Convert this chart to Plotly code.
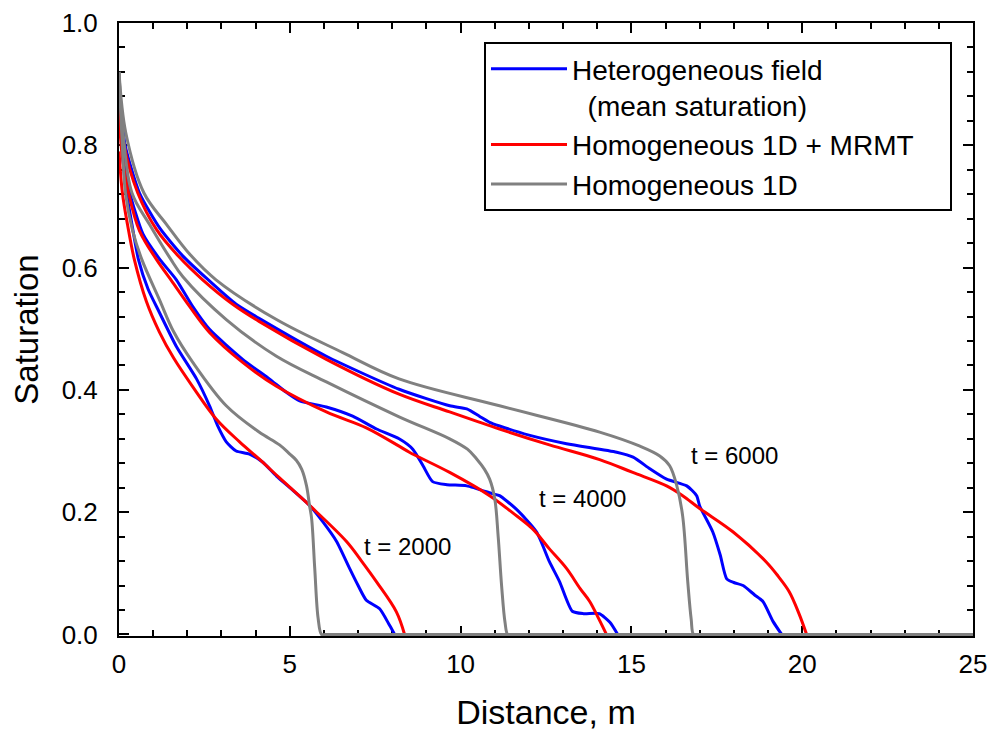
import plotly.graph_objects as go

# ---- data ----
gray2000_x = [0, 0.08, 0.19, 0.4, 0.67, 1.18, 1.6, 2.16, 3.14, 4.1, 4.7, 5.0, 5.19, 5.35, 5.49, 5.58, 5.64, 5.73, 5.83, 5.93, 6.05, 25]
gray2000_y = [0.92, 0.82, 0.722, 0.66, 0.613, 0.548, 0.495, 0.445, 0.374, 0.331, 0.31, 0.295, 0.285, 0.27, 0.243, 0.21, 0.189, 0.108, 0.026, 0.0, 0.0, 0.0]

gray4000_x = [0, 0.12, 0.38, 0.9, 1.5, 1.87, 3.14, 4.61, 6.07, 8.2, 9.68, 10.2, 10.47, 10.7, 10.85, 11.0, 11.1, 11.2, 11.3, 11.38, 11.5, 25]
gray4000_y = [0.92, 0.82, 0.722, 0.67, 0.615, 0.585, 0.515, 0.455, 0.413, 0.356, 0.32, 0.303, 0.287, 0.27, 0.254, 0.222, 0.16, 0.08, 0.02, 0.0, 0.0, 0.0]

gray6000_x = [0, 0.2, 0.73, 1.4, 2.1, 2.84, 4.61, 6.55, 8.2, 11.14, 14.07, 15.25, 15.83, 16.12, 16.33, 16.5, 16.65, 16.75, 16.82, 16.95, 25]
gray6000_y = [0.92, 0.82, 0.722, 0.67, 0.62, 0.58, 0.515, 0.461, 0.418, 0.374, 0.331, 0.308, 0.292, 0.276, 0.243, 0.194, 0.086, 0.025, 0.0, 0.0, 0.0]

red2000_x = [0, 0.1, 0.25, 0.45, 0.8, 1.18, 1.6, 2.16, 2.85, 3.53, 4.1, 4.7, 5.58, 6.66, 7.1, 7.54, 8.12, 8.36]
red2000_y = [0.79, 0.722, 0.67, 0.613, 0.545, 0.495, 0.452, 0.405, 0.352, 0.315, 0.287, 0.256, 0.211, 0.152, 0.12, 0.086, 0.037, 0.0]

red4000_x = [0, 0.1, 0.28, 0.6, 1.1, 1.57, 2.06, 2.65, 3.62, 4.61, 6.07, 7.24, 8.2, 8.5, 9.68, 10.85, 11.5, 12.1, 12.6, 13.1, 13.5, 13.78, 14.05, 14.27]
red4000_y = [0.85, 0.78, 0.722, 0.66, 0.613, 0.576, 0.537, 0.494, 0.445, 0.406, 0.364, 0.338, 0.308, 0.298, 0.265, 0.227, 0.2, 0.173, 0.14, 0.108, 0.075, 0.054, 0.025, 0.0]

red6000_x = [0, 0.15, 0.55, 1.1, 1.75, 2.45, 3.33, 4.1, 6.07, 8.2, 9.68, 11.14, 12.6, 14.07, 15.04, 16.03, 16.5, 17.0, 17.97, 18.94, 19.3, 19.62, 19.9, 20.13]
red6000_y = [0.89, 0.80, 0.722, 0.662, 0.618, 0.58, 0.54, 0.512, 0.45, 0.393, 0.364, 0.336, 0.31, 0.286, 0.265, 0.243, 0.227, 0.206, 0.168, 0.119, 0.095, 0.07, 0.035, 0.0]

blue2000_x = [0, 0.1, 0.2, 0.35, 0.57, 0.85, 1.18, 1.68, 2.27, 2.65, 2.89, 3.14, 3.43, 3.82, 4.2, 4.61, 5.0, 5.58, 5.97, 6.37, 6.75, 7.0, 7.24, 7.63, 7.92, 8.07]
blue2000_y = [0.90, 0.79, 0.73, 0.68, 0.613, 0.565, 0.527, 0.471, 0.418, 0.374, 0.341, 0.315, 0.30, 0.295, 0.282, 0.259, 0.24, 0.211, 0.184, 0.152, 0.108, 0.08, 0.056, 0.042, 0.015, 0.0]

blue4000_x = [0, 0.12, 0.32, 0.7, 1.2, 1.68, 2.15, 2.65, 3.62, 4.4, 4.9, 5.29, 6.07, 6.84, 7.54, 8.2, 8.6, 8.9, 9.18, 9.6, 10.18, 10.95, 11.14, 11.63, 12.22, 12.6, 12.9, 13.27, 13.6, 14.06, 14.37, 14.6]
blue4000_y = [0.90, 0.80, 0.722, 0.655, 0.613, 0.58, 0.537, 0.499, 0.45, 0.418, 0.396, 0.382, 0.372, 0.357, 0.336, 0.32, 0.303, 0.276, 0.25, 0.245, 0.243, 0.23, 0.227, 0.205, 0.168, 0.119, 0.086, 0.038, 0.034, 0.034, 0.02, 0.0]

blue6000_x = [0, 0.18, 0.6, 1.2, 1.85, 2.55, 3.43, 4.1, 6.07, 8.2, 9.68, 10.18, 10.55, 10.85, 11.14, 12.0, 13.1, 14.57, 15.05, 15.54, 16.03, 16.62, 16.91, 17.0, 17.38, 17.6, 17.79, 18.0, 18.27, 18.6, 18.85, 19.15, 19.4]
blue6000_y = [0.90, 0.80, 0.722, 0.664, 0.62, 0.583, 0.54, 0.517, 0.455, 0.401, 0.374, 0.369, 0.357, 0.347, 0.341, 0.326, 0.312, 0.298, 0.29, 0.271, 0.254, 0.243, 0.227, 0.21, 0.168, 0.13, 0.091, 0.085, 0.08, 0.065, 0.054, 0.021, 0.0]

time_labels = ["t = 2000", "t = 4000", "t = 6000"]
label_x = [8.45, 13.57, 18.02]
label_y = [0.144, 0.222, 0.292]

series_names = ["Heterogeneous field<br>\u00a0\u00a0(mean saturation)",
                "Homogeneous 1D + MRMT\u00a0\u00a0\u00a0\u00a0",
                "Homogeneous 1D"]
colors = ["#0000FF", "#FF0000", "#808080"]
smooth = [0.6, 1.0, 1.0]

groups = [
    [(blue2000_x, blue2000_y), (blue4000_x, blue4000_y), (blue6000_x, blue6000_y)],
    [(red2000_x, red2000_y), (red4000_x, red4000_y), (red6000_x, red6000_y)],
    [(gray2000_x, gray2000_y), (gray4000_x, gray4000_y), (gray6000_x, gray6000_y)],
]

FONT = "Liberation Sans, Arial, sans-serif"

fig = go.Figure()
for gi, grp in enumerate(groups):
    for ci, (xs, ys) in enumerate(grp):
        fig.add_trace(go.Scatter(
            x=xs, y=ys, mode="lines",
            line=dict(color=colors[gi], width=3, shape="spline", smoothing=smooth[gi]),
            name=series_names[gi], legendgroup=str(gi),
            showlegend=(ci == 0),
        ))

for t, lx, ly in zip(time_labels, label_x, label_y):
    fig.add_annotation(x=lx, y=ly, text=t, showarrow=False,
                       font=dict(family=FONT, size=24, color="black"))

axis_common = dict(
    showline=True, linecolor="black", linewidth=2, mirror="ticks",
    ticks="inside", ticklen=10, tickwidth=2, tickcolor="black",
    showgrid=False, zeroline=False, automargin=False,
    tickfont=dict(family=FONT, size=26, color="black"),
    layer="below traces",
)

fig.update_xaxes(range=[0, 25], dtick=5, tick0=0, ticklabelstandoff=4,
                 title=dict(text="Distance, m", font=dict(family=FONT, size=34, color="black"), standoff=22),
                 minor=dict(ticks="inside", ticklen=6, tickwidth=2, tickcolor="black", dtick=1),
                 **axis_common)
fig.update_yaxes(range=[-0.0025, 1.0], dtick=0.2, tick0=0, tickformat=".1f", ticklabelstandoff=14,
                 title=dict(text="Saturation", font=dict(family=FONT, size=33, color="black"), standoff=13),
                 minor=dict(ticks="inside", ticklen=6, tickwidth=2, tickcolor="black", dtick=0.04, tick0=0),
                 **axis_common)

fig.update_layout(
    width=992, height=740,
    margin=dict(l=119, r=19, t=23, b=104),
    paper_bgcolor="white", plot_bgcolor="white",
    font=dict(family=FONT, color="black"),
    legend=dict(x=0.4274, y=0.969, xanchor="left", yanchor="top",
                bgcolor="white", bordercolor="black", borderwidth=2,
                font=dict(family=FONT, size=28, color="black"),
                valign="top", itemwidth=76, tracegroupgap=0),
)

fig.write_html("out.html", config={"displayModeBar": False},
               post_script="document.body.style.margin='0';")
